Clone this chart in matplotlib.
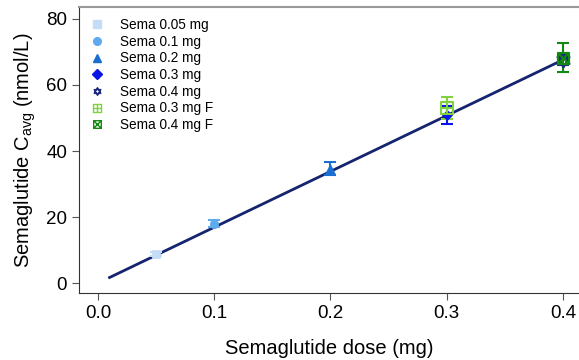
import matplotlib.pyplot as plt
from matplotlib.path import Path
import numpy as np

plt.rcParams['font.family'] = ['Liberation Sans', 'DejaVu Sans']
plt.rcParams['mathtext.default'] = 'regular'

# group means and SD
labels = ['Sema 0.05 mg', 'Sema 0.1 mg', 'Sema 0.2 mg', 'Sema 0.3 mg',
          'Sema 0.4 mg', 'Sema 0.3 mg F', 'Sema 0.4 mg F']
doses = [0.05, 0.1, 0.2, 0.3, 0.4, 0.3, 0.4]
cavg = [8.8, 18.0, 34.7, 50.9, 67.6, 53.0, 68.3]
sd = [0.5, 1.0, 2.0, 2.6, 1.5, 3.3, 4.3]
colors = ['#c4dcf6', '#5eaaee', '#1a6fd0', '#0a14e6', '#1c2a80', '#7ed23f', '#128a12']

# regression line
fit_x = [0.01, 0.4]
fit_y = [1.7, 67.6]

# custom markers: hexagram, boxed plus, boxed cross
t = np.deg2rad([90, 210, 330, 90])
t2 = np.deg2rad([270, 30, 150, 270])
hex_verts = list(zip(np.cos(t), np.sin(t))) + list(zip(np.cos(t2), np.sin(t2)))
hex_codes = [Path.MOVETO, Path.LINETO, Path.LINETO, Path.CLOSEPOLY] * 2
hexagram = Path(hex_verts, hex_codes)

sq = [(-1, -1), (1, -1), (1, 1), (-1, 1), (-1, -1)]
sq_codes = [Path.MOVETO, Path.LINETO, Path.LINETO, Path.LINETO, Path.CLOSEPOLY]
box_plus = Path(sq + [(0, -1), (0, 1), (-1, 0), (1, 0)],
                sq_codes + [Path.MOVETO, Path.LINETO, Path.MOVETO, Path.LINETO])
box_x = Path(sq + [(-1, -1), (1, 1), (-1, 1), (1, -1)],
             sq_codes + [Path.MOVETO, Path.LINETO, Path.MOVETO, Path.LINETO])

markers = ['s', 'o', '^', 'D', hexagram, box_plus, box_x]
msizes = [6, 6, 7, 5, 10, 8, 8]
filled = [True, True, True, True, False, False, False]

fig = plt.figure(figsize=(5.79, 3.6), dpi=100)
ax = fig.add_axes([0.1364, 0.186, 0.8636, 0.7946])

ax.plot(fit_x, fit_y, color='#15246e', lw=2, zorder=3)

for i in range(len(labels)):
    ax.errorbar(doses[i], cavg[i], yerr=sd[i], fmt='none', ecolor=colors[i],
                elinewidth=1.5, capsize=4, capthick=1.5, zorder=4)
    ax.plot(doses[i], cavg[i], ls='none', marker=markers[i], ms=msizes[i],
            color=colors[i], mfc=colors[i] if filled[i] else 'none',
            mew=1.5 if not filled[i] else 0.5, label=labels[i], zorder=5)

ax.set_xlim(-0.0163, 0.4138)
ax.set_ylim(-3, 83.6)
ax.set_xticks([0.0, 0.1, 0.2, 0.3, 0.4])
ax.set_yticks([0, 20, 40, 60, 80])
ax.tick_params(labelsize=13.5, length=5, color='#555555')

ax.spines['right'].set_visible(False)
ax.spines['top'].set_color('#999999')
ax.spines['top'].set_linewidth(1.5)
ax.spines['left'].set_color('#333333')
ax.spines['bottom'].set_color('#333333')

ax.set_xlabel('Semaglutide dose (mg)', fontsize=14.5, labelpad=12.5)
ax.set_ylabel('Semaglutide C$_{avg}$ (nmol/L)', fontsize=14.5, labelpad=6)

leg = ax.legend(loc='upper left', frameon=False, fontsize=9.8, handletextpad=1.2,
                labelspacing=0.2, borderaxespad=0.4, handlelength=1.0)
for h in leg.legend_handles:
    h.set_markersize(5.5)
    h.set_markeredgewidth(1.0)

fig.savefig('out.png', dpi=100)
